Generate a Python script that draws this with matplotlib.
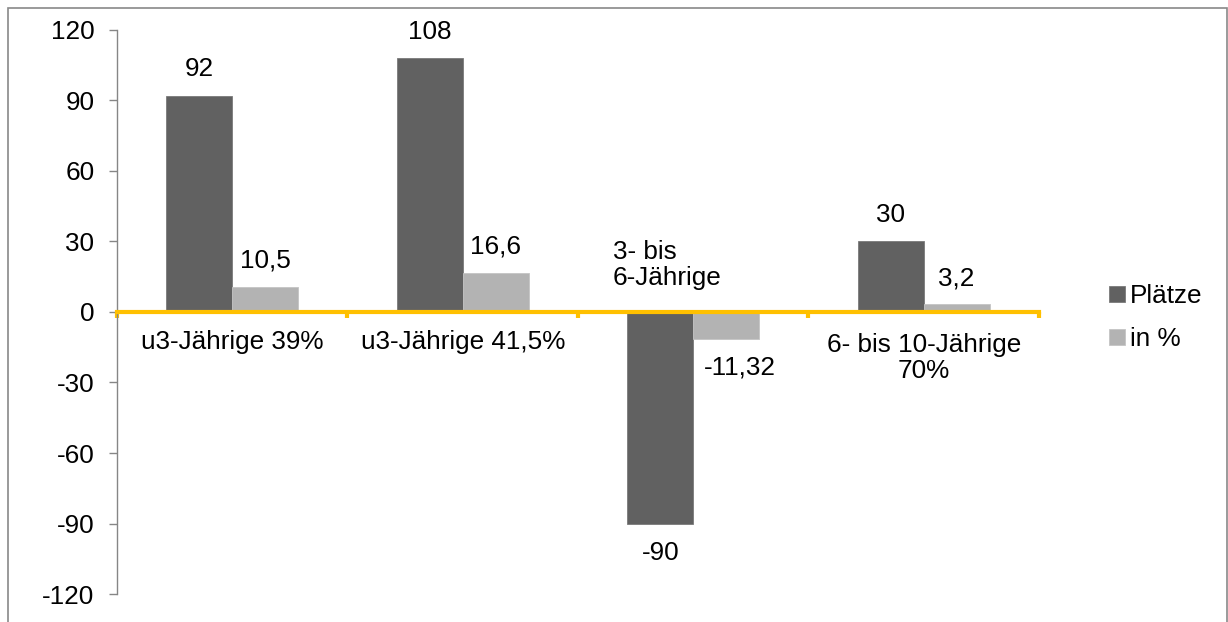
import numpy as np
import matplotlib.pyplot as plt
from matplotlib.patches import Rectangle

plt.rcParams['font.family'] = ['Liberation Sans', 'DejaVu Sans']

categories = ['u3-Jährige 39%', 'u3-Jährige 41,5%', '3- bis\n6-Jährige', '6- bis 10-Jährige\n70%']
plaetze = [92, 108, -90, 30]
prozent = [10.5, 16.6, -11.32, 3.2]
plaetze_labels = ['92', '108', '-90', '30']
prozent_labels = ['10,5', '16,6', '-11,32', '3,2']
series_names = ['Plätze', 'in %']
y_ticks = [-120, -90, -60, -30, 0, 30, 60, 90, 120]

dark = '#616161'
light = '#b3b3b3'
gold = '#ffc000'
grey = '#868686'
fs = 18.8


def label_bars(ax, xs, values, texts, neg_dx=0):
    for x, v, t in zip(xs, values, texts):
        if v >= 0:
            off = (0, 19)
        else:
            off = (neg_dx, -21)
        ax.annotate(t, (x, v), xytext=off, textcoords='offset points',
                    ha='center', va='center', fontsize=fs, color='black')


def main():
    fig = plt.figure(figsize=(12.28, 6.22), dpi=100)
    ax = fig.add_axes([0.0953, 0.045, 0.846 - 0.0953, 0.9518 - 0.045])

    x = np.arange(len(categories))
    w = 1 / 3.5
    ax.bar(x - w / 2, plaetze, w, color=dark, edgecolor='#7a7a7a', linewidth=0.6,
           label=series_names[0], zorder=2)
    ax.bar(x + w / 2, prozent, w, color=light, edgecolor='#c4c4c4', linewidth=0.6,
           label=series_names[1], zorder=2)

    label_bars(ax, x - w / 2, plaetze, plaetze_labels)
    label_bars(ax, x + w / 2, prozent, prozent_labels, neg_dx=10)

    ax.set_xlim(-0.5, len(categories) - 0.5)
    ax.set_ylim(-120, 120)
    ax.set_yticks(y_ticks)
    ax.set_yticklabels([str(v) for v in y_ticks], fontsize=fs)
    ax.tick_params(axis='y', direction='out', length=5.8, width=1.0, color=grey, pad=10.5)

    # category axis sits on the zero line
    ax.spines['bottom'].set_position(('data', 0))
    ax.spines['bottom'].set_color(gold)
    ax.spines['bottom'].set_linewidth(3.0)
    ax.spines['bottom'].set_zorder(3)
    ax.set_xticks(np.arange(len(categories) + 1) - 0.5)
    ax.set_xticklabels([])
    ax.tick_params(axis='x', direction='out', length=4.5, width=3.0, color=gold)

    ax.spines['left'].set_color(grey)
    ax.spines['left'].set_linewidth(1.0)
    ax.spines['top'].set_visible(False)
    ax.spines['right'].set_visible(False)

    # category names
    for i, name in enumerate(categories):
        if i == 2:
            ax.annotate(name, (i - 0.348, 0), xytext=(0, 34), textcoords='offset points',
                        ha='left', va='center', multialignment='left', fontsize=fs,
                        linespacing=1.12)
        elif '\n' in name:
            ax.annotate(name, (i, 0), xytext=(0, -33), textcoords='offset points',
                        ha='center', va='center', multialignment='center', fontsize=fs,
                        linespacing=1.12)
        else:
            ax.annotate(name, (i, 0), xytext=(0, -21.5), textcoords='offset points',
                        ha='center', va='center', fontsize=fs)

    ax.legend(loc='upper left', bbox_to_anchor=(0.903, 0.543), bbox_transform=fig.transFigure,
              frameon=False, fontsize=fs, handlelength=0.6, handleheight=0.6,
              handletextpad=0.2, labelspacing=0.72, borderpad=0, borderaxespad=0)

    # chart area frame
    fig.add_artist(Rectangle((8 / 1228, -0.2), 1219 / 1228, 1.2 - 7.5 / 622,
                             transform=fig.transFigure, fill=False,
                             edgecolor='#898989', linewidth=1.2))

    fig.savefig('out.png', dpi=100)


if __name__ == '__main__':
    main()
